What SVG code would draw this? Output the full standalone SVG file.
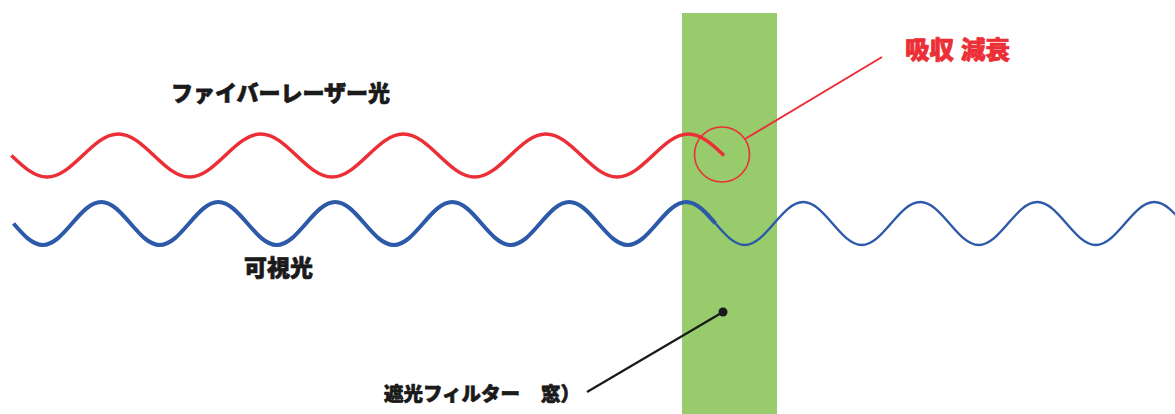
<svg xmlns="http://www.w3.org/2000/svg" width="1175" height="414" viewBox="0 0 1175 414">
<style>
.lbl{font-family:"Noto Sans CJK JP","Noto Sans CJK SC",sans-serif;font-weight:900;stroke-width:0.7;stroke-linejoin:round;}
.dark{fill:#1a1a1a;stroke:#1a1a1a;}
.redt{fill:#ec2f36;stroke:#ec2f36;}
.red{fill:none;stroke:#ec2f36;}
.blue{fill:none;stroke:#2c59a8;}
</style>
<rect width="1175" height="414" fill="#ffffff"/>
<g id="filter">
<rect x="682" y="13" width="95" height="401" fill="#97cb6c"/>
</g>
<g id="connectors">
<path id="red-wave" class="red" stroke-width="3.6" d="M11.4,155.5 c11.62,11.01 22.73,21.5 35.63,21.5 s24.01,-10.49 35.63,-21.5 s22.73,-21.5 35.63,-21.5 s24.01,10.49 35.63,21.5 s22.73,21.5 35.63,21.5 s24.01,-10.49 35.63,-21.5 s22.73,-21.5 35.63,-21.5 s24.01,10.49 35.63,21.5 s22.73,21.5 35.63,21.5 s24.01,-10.49 35.63,-21.5 s22.73,-21.5 35.63,-21.5 s24.01,10.49 35.63,21.5 s22.73,21.5 35.63,21.5 s24.01,-10.49 35.63,-21.5 s22.73,-21.5 35.63,-21.5 s24.01,10.49 35.63,21.5 s22.73,21.5 35.63,21.5 s24.01,-10.49 35.63,-21.5 s22.73,-21.5 35.63,-21.5 s24.01,10.49 35.63,21.5"/>
<path id="blue-wave-thick" class="blue" stroke-width="4" d="M13.5,223.5 c9.54,11.01 18.66,21.5 29.25,21.5 s19.71,-10.49 29.25,-21.5 s18.66,-21.5 29.25,-21.5 s19.71,10.49 29.25,21.5 s18.66,21.5 29.25,21.5 s19.71,-10.49 29.25,-21.5 s18.66,-21.5 29.25,-21.5 s19.71,10.49 29.25,21.5 s18.66,21.5 29.25,21.5 s19.71,-10.49 29.25,-21.5 s18.66,-21.5 29.25,-21.5 s19.71,10.49 29.25,21.5 s18.66,21.5 29.25,21.5 s19.71,-10.49 29.25,-21.5 s18.66,-21.5 29.25,-21.5 s19.71,10.49 29.25,21.5 s18.66,21.5 29.25,21.5 s19.71,-10.49 29.25,-21.5 s18.66,-21.5 29.25,-21.5 s19.71,10.49 29.25,21.5 s18.66,21.5 29.25,21.5 s19.71,-10.49 29.25,-21.5 s18.66,-21.5 29.25,-21.5 s19.71,10.49 29.25,21.5"/>
<path id="blue-wave-thin" class="blue" stroke-width="2.4" d="M715.5,223.5 c9.54,11.01 18.66,21.5 29.25,21.5 s19.71,-10.49 29.25,-21.5 s18.66,-21.5 29.25,-21.5 s19.71,10.49 29.25,21.5 s18.66,21.5 29.25,21.5 s19.71,-10.49 29.25,-21.5 s18.66,-21.5 29.25,-21.5 s19.71,10.49 29.25,21.5 s18.66,21.5 29.25,21.5 s19.71,-10.49 29.25,-21.5 s18.66,-21.5 29.25,-21.5 s19.71,10.49 29.25,21.5 s18.66,21.5 29.25,21.5 s19.71,-10.49 29.25,-21.5 s18.66,-21.5 29.25,-21.5 s19.71,10.49 29.25,21.5"/>
<circle class="red" stroke-width="1.6" cx="722" cy="154.5" r="27.5"/>
<line class="red" stroke-width="2" x1="745" y1="139" x2="882" y2="57"/>
<line stroke="#1a1a1a" stroke-width="2.2" x1="587" y1="392" x2="723" y2="312"/>
<circle cx="723" cy="312" r="4.5" fill="#1a1a1a"/>
</g>
<g id="label-fiber">
<text class="lbl dark" x="171" y="101" font-size="22">ファイバーレーザー光</text>
</g>
<g id="label-visible">
<text class="lbl dark" x="244" y="276" font-size="23">可視光</text>
</g>
<g id="label-absorb">
<text class="lbl redt" x="905" y="59" font-size="24.5">吸収 <tspan x="961">減衰</tspan></text>
</g>
<g id="label-filter">
<text class="lbl dark" x="384" y="401" font-size="19.5">遮光フィルター <tspan x="541">窓）</tspan></text>
</g>
</svg>
